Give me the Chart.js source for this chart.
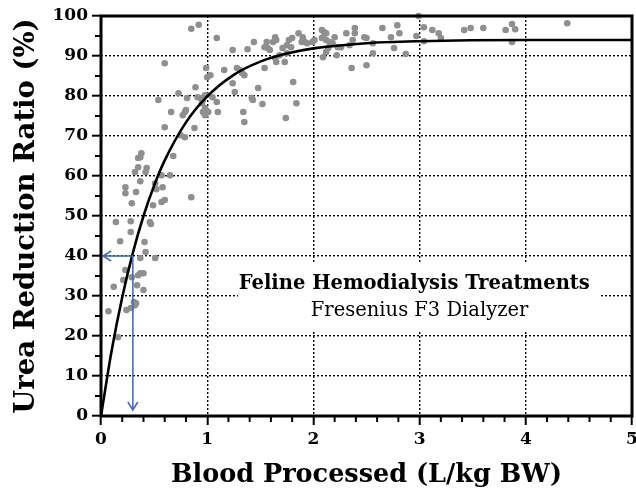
<!DOCTYPE html>
<html>
<head>
<meta charset="utf-8">
<script src="https://cdn.jsdelivr.net/npm/chart.js@4.4.1/dist/chart.umd.min.js"></script>
<style>
  html, body { margin: 0; padding: 0; background: #fff; }
</style>
</head>
<body>
<canvas id="chart" width="636" height="495"></canvas>
<script>
// ---------------- DATA ----------------
const xTicks = [0, 1, 2, 3, 4, 5];
const yTicks = [0, 10, 20, 30, 40, 50, 60, 70, 80, 90, 100];

// individual treatments (L/kg BW, URR %)
const treatX = [
  0.07, 0.12, 0.16, 0.14, 0.28, 0.46, 0.47, 0.28, 0.18, 0.41, 0.42, 0.37, 0.51,
  0.23, 0.37, 0.40, 0.35, 0.21, 0.34, 0.40, 0.29, 0.31, 0.33, 0.32, 0.28, 0.24,
  0.38, 0.37, 0.35, 0.35, 0.32, 0.43, 0.42, 0.37, 0.23, 0.23, 0.33, 0.29, 0.57,
  0.65, 0.51, 0.52, 0.58, 0.57, 0.60, 0.49, 0.85, 0.68,
  0.85, 0.92, 0.60, 0.89, 0.73, 0.54, 0.81, 0.91, 0.94, 0.66, 0.80, 0.79, 0.77,
  0.96, 0.98, 0.60, 0.88, 0.99, 0.75, 0.79,
  1.09, 1.24, 1.38, 1.44, 1.56, 1.54, 1.57, 1.59, 1.64, 1.65, 1.62, 1.77, 1.80,
  1.86, 1.90, 1.89, 1.79, 1.75, 1.71, 1.65, 1.68, 1.64, 1.54, 1.03, 1.00, 1.16,
  1.28, 1.31, 1.33, 1.35, 1.24, 1.26, 1.48, 1.81, 1.05, 1.09, 0.98, 0.96, 0.95,
  0.98, 1.01, 1.10, 1.42, 1.43, 1.34, 1.35, 1.52, 1.74, 1.84, 1.75, 1.73,
  1.92, 1.94, 1.99, 2.01, 2.08, 2.10, 2.12, 2.09, 2.08, 2.12, 2.15, 2.20, 2.31,
  2.39, 2.39, 2.37, 2.34, 2.26, 2.23, 2.18, 2.14, 2.12, 2.22,
  2.65, 2.79, 2.81, 2.73, 2.76, 2.87, 2.56, 2.50, 2.48, 2.56, 2.36, 2.50, 2.09,
  2.99, 3.04, 3.12, 3.18, 2.97, 3.04, 3.20, 3.42, 3.48, 3.60, 3.81, 3.87, 3.90,
  3.87, 4.39
];
const treatY = [
  26.2, 32.3, 19.7, 48.5, 48.7, 48.5, 48.0, 46.0, 43.7, 43.5, 41.0, 39.5, 39.5,
  36.5, 35.7, 35.7, 35.2, 34.0, 32.7, 31.5, 34.7, 28.5, 28.2, 27.7, 27.0, 26.5,
  65.7, 64.7, 64.5, 62.2, 61.0, 62.0, 61.0, 58.7, 57.2, 55.7, 56.0, 53.2, 60.2,
  60.2, 58.2, 56.7, 57.2, 53.5, 54.0, 52.7, 54.7, 65.0,
  96.8, 97.8, 88.2, 82.2, 80.7, 79.0, 79.5, 79.7, 79.5, 76.0, 76.5, 76.0, 75.2,
  76.0, 75.2, 72.2, 72.0, 87.0, 70.2, 69.7,
  94.5, 91.5, 91.7, 93.5, 93.5, 92.2, 92.0, 91.5, 94.7, 94.0, 93.5, 94.0, 94.5,
  95.7, 94.7, 93.5, 92.2, 92.7, 92.0, 88.5, 90.2, 89.5, 87.0, 85.2, 84.7, 86.5,
  87.0, 86.5, 85.7, 85.2, 83.2, 81.0, 82.0, 83.5, 79.7, 78.5, 80.2, 79.0, 78.2,
  77.0, 76.0, 76.0, 79.5, 79.0, 76.0, 73.5, 78.0, 74.5, 78.2, 90.7, 88.5,
  93.5, 93.2, 93.5, 94.0, 96.5, 96.0, 95.7, 94.7, 94.5, 94.0, 93.5, 94.7, 95.7,
  97.0, 95.7, 94.0, 92.7, 92.2, 92.2, 93.2, 92.0, 91.0, 90.2,
  97.0, 97.7, 95.7, 94.7, 92.0, 90.5, 93.2, 94.5, 94.7, 90.7, 87.0, 87.7, 89.7,
  100.0, 97.2, 96.5, 95.7, 95.0, 93.7, 94.5, 96.5, 97.0, 97.0, 96.5, 98.0, 96.7,
  93.5, 98.2
];

// fitted curve
const fitX = [0, 0.1, 0.2, 0.3, 0.4, 0.5, 0.6, 0.8, 1.0, 1.25, 1.5, 1.75, 2.0, 2.5, 3.0, 4.0, 5.0];
const fitY = [0, 16.3, 29.7, 40.8, 50.0, 57.6, 63.9, 73.4, 79.9, 85.3, 88.6, 90.6, 91.9, 93.2, 93.7, 94.0, 94.0];

// example read-off: 0.3 L/kg -> 40 %
const readX = [0.3, 0.02];
const readY = [40, 1.5];

const boxTitle = "Feline Hemodialysis Treatments";
const boxSub = "Fresenius F3 Dialyzer";

const SERIF = "'DejaVu Serif', serif";

// ---------------- PLUGIN: frame, minor ticks, arrows, label box ----------------
const decor = {
    id: "decor",
    beforeDatasetsDraw(chart) {
        const { ctx, scales: { x, y } } = chart;
        ctx.save();
        // white box behind the label
        const l = x.getPixelForValue(1.29), r = x.getPixelForValue(4.71);
        const t = y.getPixelForValue(38.5), b = y.getPixelForValue(21.5);
        ctx.fillStyle = "#fff";
        ctx.fillRect(l, t, r - l, b - t);

        ctx.fillStyle = "#000";
        ctx.textAlign = "center";
        ctx.textBaseline = "middle";
        ctx.font = "bold 19.5px " + SERIF;
        ctx.fillText(boxTitle, x.getPixelForValue(2.95), y.getPixelForValue(33));
        ctx.font = "19.5px " + SERIF;
        ctx.fillText(boxSub, x.getPixelForValue(3.0), y.getPixelForValue(26.3));
        ctx.restore();
    },
    afterDraw(chart) {
        const { ctx, chartArea: ca, scales: { x, y } } = chart;
        ctx.save();

        // minor ticks
        ctx.strokeStyle = "#000";
        ctx.lineWidth = 2;
        for (let v = 5; v < 100; v += 10) {
            const py = y.getPixelForValue(v);
            ctx.beginPath();
            ctx.moveTo(ca.left, py);
            ctx.lineTo(ca.left - 6, py);
            ctx.stroke();
        }
        for (let i = 1; i < 25; i++) {
            if (i % 5 === 0) continue;
            const px = x.getPixelForValue(i * 0.2);
            ctx.beginPath();
            ctx.moveTo(px, ca.bottom);
            ctx.lineTo(px, ca.bottom + 6);
            ctx.stroke();
        }

        // frame
        ctx.lineWidth = 3;
        ctx.strokeRect(ca.left, ca.top, ca.right - ca.left, ca.bottom - ca.top);

        // read-off arrows
        const ox = x.getPixelForValue(readX[0]), oy = y.getPixelForValue(readY[0]);
        const ex = x.getPixelForValue(readX[1]), ey = y.getPixelForValue(readY[1]);
        ctx.strokeStyle = "#4a6db5";
        ctx.lineWidth = 1.6;
        ctx.beginPath();
        ctx.moveTo(ox, oy); ctx.lineTo(ex, oy);
        ctx.moveTo(ox, oy); ctx.lineTo(ox, ey);
        ctx.stroke();
        ctx.beginPath();
        ctx.moveTo(ex + 8, oy - 5); ctx.lineTo(ex, oy); ctx.lineTo(ex + 8, oy + 5);
        ctx.moveTo(ox - 5, ey - 8); ctx.lineTo(ox, ey); ctx.lineTo(ox + 5, ey - 8);
        ctx.stroke();
        ctx.restore();
    }
};

// ---------------- CHART ----------------
const gridColor = c => (c.tick && (c.tick.value === c.scale.min || c.tick.value === c.scale.max)) ? "rgba(0,0,0,0)" : "#000";

new Chart(document.getElementById("chart"), {
    type: "scatter",
    data: {
        datasets: [
            {
                label: "Fit",
                data: fitX.map((v, i) => ({ x: v, y: fitY[i] })),
                showLine: true,
                cubicInterpolationMode: "monotone",
                borderColor: "#000",
                borderWidth: 2.6,
                pointRadius: 0
            },
            {
                label: "Treatments",
                data: treatX.map((v, i) => ({ x: v, y: treatY[i] })),
                backgroundColor: "#8f8f8f",
                borderWidth: 0,
                pointRadius: 3.3,
                clip: false
            }
        ]
    },
    options: {
        responsive: false,
        animation: false,
        devicePixelRatio: 1,
        layout: { padding: { left: 0, right: 2, top: 16, bottom: 0 } },
        plugins: { legend: { display: false }, tooltip: { enabled: false } },
        scales: {
            x: {
                type: "linear",
                min: 0, max: 5,
                afterBuildTicks: s => { s.ticks = xTicks.map(v => ({ value: v })); },
                afterFit: s => { s.height = 79; s.paddingLeft = 0; s.paddingRight = 0; },
                ticks: { color: "#000", padding: 4, font: { family: SERIF, weight: "bold", size: 17 } },
                grid: { color: gridColor, lineWidth: 1.4, tickLength: 9, tickColor: "#000", tickWidth: 2 },
                border: { display: false, dash: [2, 2] },
                title: {
                    display: true,
                    text: "Blood Processed (L/kg BW)",
                    color: "#000",
                    font: { family: SERIF, weight: "bold", size: 25.5 },
                    padding: { top: 0, bottom: 4 }
                }
            },
            y: {
                type: "linear",
                min: 0, max: 100,
                afterBuildTicks: s => { s.ticks = yTicks.map(v => ({ value: v })); },
                afterFit: s => { s.width = 101; },
                ticks: { color: "#000", padding: 4, font: { family: SERIF, weight: "bold", size: 17 } },
                grid: { color: gridColor, lineWidth: 1.4, tickLength: 9, tickColor: "#000", tickWidth: 2 },
                border: { display: false, dash: [2, 2] },
                title: {
                    display: true,
                    text: "Urea Reduction Ratio (%)",
                    color: "#000",
                    font: { family: SERIF, weight: "bold", size: 27.5 },
                    padding: { top: 10, bottom: 0 }
                }
            }
        }
    },
    plugins: [decor]
});
</script>
</body>
</html>
